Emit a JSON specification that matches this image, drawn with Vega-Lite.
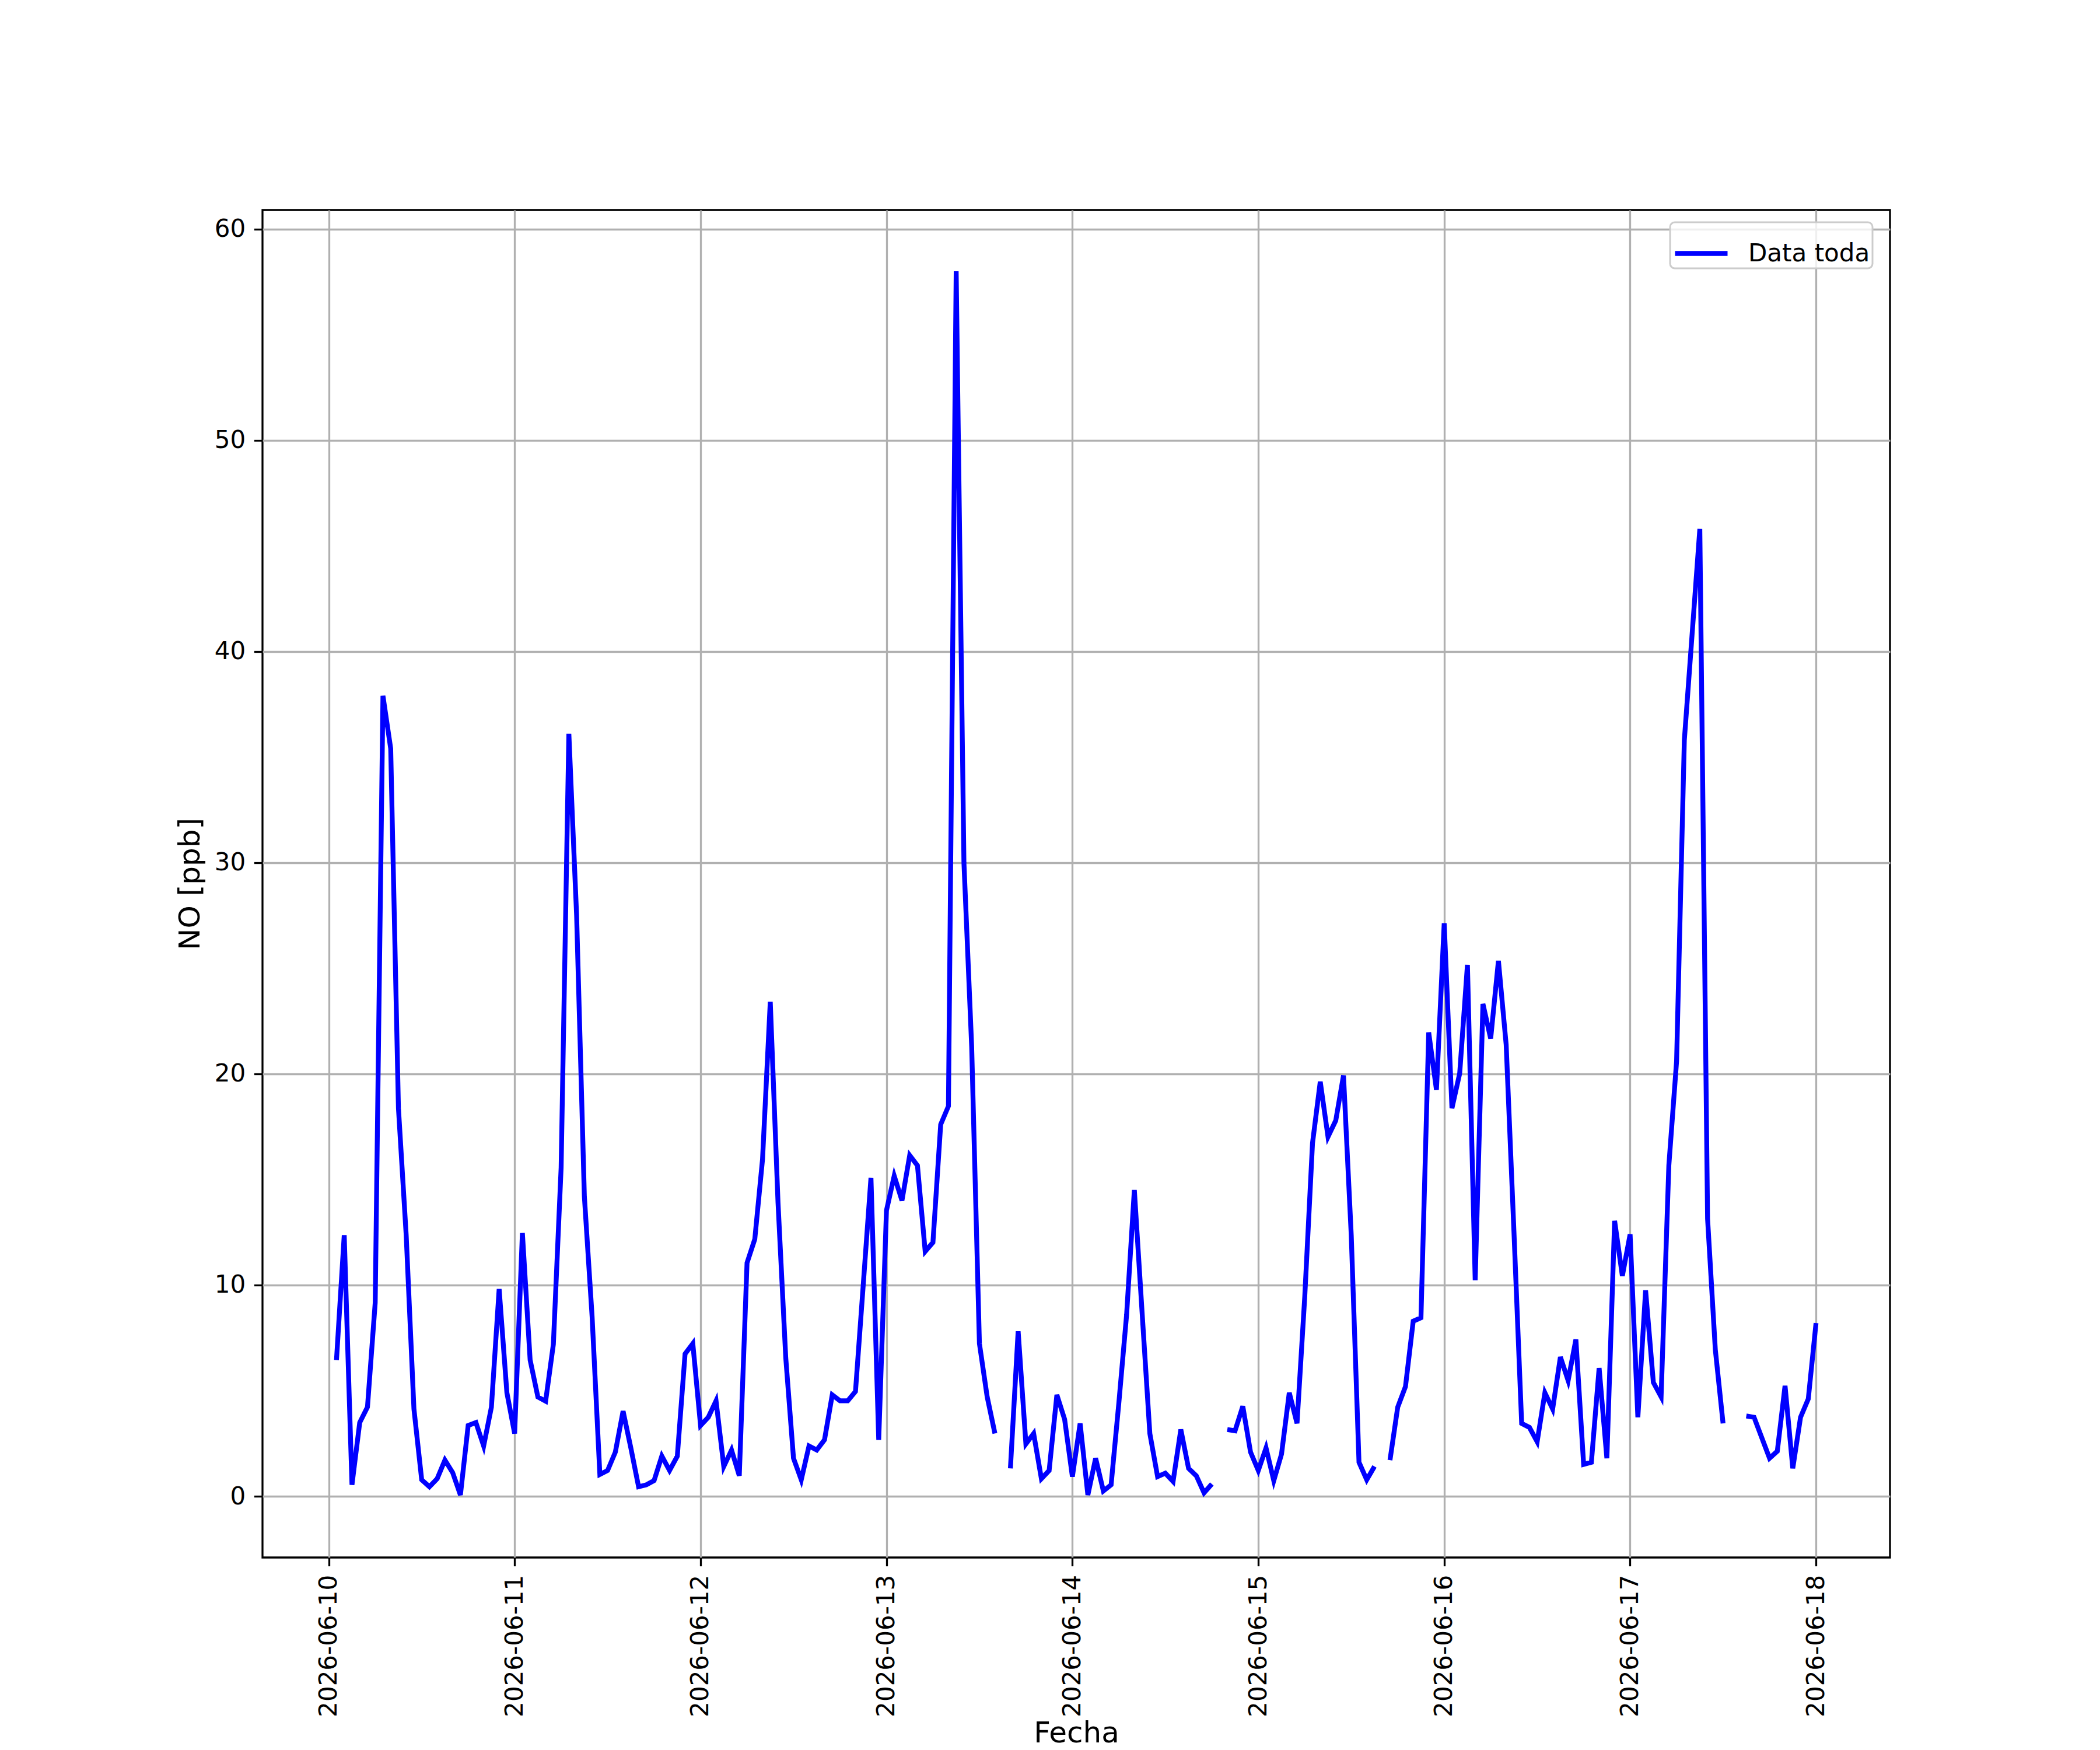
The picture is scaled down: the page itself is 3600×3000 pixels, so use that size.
{
  "$schema": "https://vega.github.io/schema/vega-lite/v6.json",
  "autosize": "none",
  "width": 2790,
  "height": 2310,
  "padding": {"left": 450, "top": 360, "right": 360, "bottom": 330},
  "background": "white",
  "data": {
    "values": [
      {"Fecha": "2026-06-10T01:00:00Z", "NO": 6.45},
      {"Fecha": "2026-06-10T02:00:00Z", "NO": 12.36},
      {"Fecha": "2026-06-10T03:00:00Z", "NO": 0.54},
      {"Fecha": "2026-06-10T04:00:00Z", "NO": 3.49},
      {"Fecha": "2026-06-10T05:00:00Z", "NO": 4.22},
      {"Fecha": "2026-06-10T06:00:00Z", "NO": 9.17},
      {"Fecha": "2026-06-10T07:00:00Z", "NO": 37.9},
      {"Fecha": "2026-06-10T08:00:00Z", "NO": 35.4},
      {"Fecha": "2026-06-10T09:00:00Z", "NO": 18.37},
      {"Fecha": "2026-06-10T10:00:00Z", "NO": 12.36},
      {"Fecha": "2026-06-10T11:00:00Z", "NO": 4.13},
      {"Fecha": "2026-06-10T12:00:00Z", "NO": 0.78},
      {"Fecha": "2026-06-10T13:00:00Z", "NO": 0.45},
      {"Fecha": "2026-06-10T14:00:00Z", "NO": 0.83},
      {"Fecha": "2026-06-10T15:00:00Z", "NO": 1.71},
      {"Fecha": "2026-06-10T16:00:00Z", "NO": 1.12},
      {"Fecha": "2026-06-10T17:00:00Z", "NO": 0.06},
      {"Fecha": "2026-06-10T18:00:00Z", "NO": 3.35},
      {"Fecha": "2026-06-10T19:00:00Z", "NO": 3.49},
      {"Fecha": "2026-06-10T20:00:00Z", "NO": 2.38},
      {"Fecha": "2026-06-10T21:00:00Z", "NO": 4.22},
      {"Fecha": "2026-06-10T22:00:00Z", "NO": 9.81},
      {"Fecha": "2026-06-10T23:00:00Z", "NO": 4.9},
      {"Fecha": "2026-06-11T00:00:00Z", "NO": 2.97},
      {"Fecha": "2026-06-11T01:00:00Z", "NO": 12.46},
      {"Fecha": "2026-06-11T02:00:00Z", "NO": 6.45},
      {"Fecha": "2026-06-11T03:00:00Z", "NO": 4.7},
      {"Fecha": "2026-06-11T04:00:00Z", "NO": 4.5},
      {"Fecha": "2026-06-11T05:00:00Z", "NO": 7.2},
      {"Fecha": "2026-06-11T06:00:00Z", "NO": 15.56},
      {"Fecha": "2026-06-11T07:00:00Z", "NO": 36.1},
      {"Fecha": "2026-06-11T08:00:00Z", "NO": 27.5},
      {"Fecha": "2026-06-11T09:00:00Z", "NO": 14.2},
      {"Fecha": "2026-06-11T10:00:00Z", "NO": 8.5},
      {"Fecha": "2026-06-11T11:00:00Z", "NO": 1.03},
      {"Fecha": "2026-06-11T12:00:00Z", "NO": 1.22},
      {"Fecha": "2026-06-11T13:00:00Z", "NO": 2.09},
      {"Fecha": "2026-06-11T14:00:00Z", "NO": 4.03},
      {"Fecha": "2026-06-11T15:00:00Z", "NO": 2.29},
      {"Fecha": "2026-06-11T16:00:00Z", "NO": 0.45},
      {"Fecha": "2026-06-11T17:00:00Z", "NO": 0.54},
      {"Fecha": "2026-06-11T18:00:00Z", "NO": 0.74},
      {"Fecha": "2026-06-11T19:00:00Z", "NO": 1.9},
      {"Fecha": "2026-06-11T20:00:00Z", "NO": 1.22},
      {"Fecha": "2026-06-11T21:00:00Z", "NO": 1.9},
      {"Fecha": "2026-06-11T22:00:00Z", "NO": 6.74},
      {"Fecha": "2026-06-11T23:00:00Z", "NO": 7.23},
      {"Fecha": "2026-06-12T00:00:00Z", "NO": 3.35},
      {"Fecha": "2026-06-12T01:00:00Z", "NO": 3.74},
      {"Fecha": "2026-06-12T02:00:00Z", "NO": 4.52},
      {"Fecha": "2026-06-12T03:00:00Z", "NO": 1.41},
      {"Fecha": "2026-06-12T04:00:00Z", "NO": 2.19},
      {"Fecha": "2026-06-12T05:00:00Z", "NO": 0.97},
      {"Fecha": "2026-06-12T06:00:00Z", "NO": 11.05},
      {"Fecha": "2026-06-12T07:00:00Z", "NO": 12.17},
      {"Fecha": "2026-06-12T08:00:00Z", "NO": 15.95},
      {"Fecha": "2026-06-12T09:00:00Z", "NO": 23.41},
      {"Fecha": "2026-06-12T10:00:00Z", "NO": 13.9},
      {"Fecha": "2026-06-12T11:00:00Z", "NO": 6.55},
      {"Fecha": "2026-06-12T12:00:00Z", "NO": 1.8},
      {"Fecha": "2026-06-12T13:00:00Z", "NO": 0.78},
      {"Fecha": "2026-06-12T14:00:00Z", "NO": 2.38},
      {"Fecha": "2026-06-12T15:00:00Z", "NO": 2.19},
      {"Fecha": "2026-06-12T16:00:00Z", "NO": 2.67},
      {"Fecha": "2026-06-12T17:00:00Z", "NO": 4.8},
      {"Fecha": "2026-06-12T18:00:00Z", "NO": 4.52},
      {"Fecha": "2026-06-12T19:00:00Z", "NO": 4.52},
      {"Fecha": "2026-06-12T20:00:00Z", "NO": 4.96},
      {"Fecha": "2026-06-12T21:00:00Z", "NO": 10.0},
      {"Fecha": "2026-06-12T22:00:00Z", "NO": 15.08},
      {"Fecha": "2026-06-12T23:00:00Z", "NO": 2.67},
      {"Fecha": "2026-06-13T00:00:00Z", "NO": 13.53},
      {"Fecha": "2026-06-13T01:00:00Z", "NO": 15.17},
      {"Fecha": "2026-06-13T02:00:00Z", "NO": 14.0},
      {"Fecha": "2026-06-13T03:00:00Z", "NO": 16.14},
      {"Fecha": "2026-06-13T04:00:00Z", "NO": 15.66},
      {"Fecha": "2026-06-13T05:00:00Z", "NO": 11.59},
      {"Fecha": "2026-06-13T06:00:00Z", "NO": 12.02},
      {"Fecha": "2026-06-13T07:00:00Z", "NO": 17.6},
      {"Fecha": "2026-06-13T08:00:00Z", "NO": 18.47},
      {"Fecha": "2026-06-13T09:00:00Z", "NO": 58.0},
      {"Fecha": "2026-06-13T10:00:00Z", "NO": 30.0},
      {"Fecha": "2026-06-13T11:00:00Z", "NO": 21.28},
      {"Fecha": "2026-06-13T12:00:00Z", "NO": 7.23},
      {"Fecha": "2026-06-13T13:00:00Z", "NO": 4.71},
      {"Fecha": "2026-06-13T14:00:00Z", "NO": 2.97},
      {"Fecha": "2026-06-13T15:00:00Z", "NO": null},
      {"Fecha": "2026-06-13T16:00:00Z", "NO": 1.32},
      {"Fecha": "2026-06-13T17:00:00Z", "NO": 7.81},
      {"Fecha": "2026-06-13T18:00:00Z", "NO": 2.48},
      {"Fecha": "2026-06-13T19:00:00Z", "NO": 2.97},
      {"Fecha": "2026-06-13T20:00:00Z", "NO": 0.83},
      {"Fecha": "2026-06-13T21:00:00Z", "NO": 1.22},
      {"Fecha": "2026-06-13T22:00:00Z", "NO": 4.8},
      {"Fecha": "2026-06-13T23:00:00Z", "NO": 3.64},
      {"Fecha": "2026-06-14T00:00:00Z", "NO": 0.93},
      {"Fecha": "2026-06-14T01:00:00Z", "NO": 3.45},
      {"Fecha": "2026-06-14T02:00:00Z", "NO": 0.06},
      {"Fecha": "2026-06-14T03:00:00Z", "NO": 1.8},
      {"Fecha": "2026-06-14T04:00:00Z", "NO": 0.25},
      {"Fecha": "2026-06-14T05:00:00Z", "NO": 0.54},
      {"Fecha": "2026-06-14T06:00:00Z", "NO": 4.42},
      {"Fecha": "2026-06-14T07:00:00Z", "NO": 8.59},
      {"Fecha": "2026-06-14T08:00:00Z", "NO": 14.5},
      {"Fecha": "2026-06-14T09:00:00Z", "NO": 8.7},
      {"Fecha": "2026-06-14T10:00:00Z", "NO": 2.97},
      {"Fecha": "2026-06-14T11:00:00Z", "NO": 0.93},
      {"Fecha": "2026-06-14T12:00:00Z", "NO": 1.09},
      {"Fecha": "2026-06-14T13:00:00Z", "NO": 0.7},
      {"Fecha": "2026-06-14T14:00:00Z", "NO": 3.16},
      {"Fecha": "2026-06-14T15:00:00Z", "NO": 1.32},
      {"Fecha": "2026-06-14T16:00:00Z", "NO": 0.97},
      {"Fecha": "2026-06-14T17:00:00Z", "NO": 0.16},
      {"Fecha": "2026-06-14T18:00:00Z", "NO": 0.58},
      {"Fecha": "2026-06-14T19:00:00Z", "NO": null},
      {"Fecha": "2026-06-14T20:00:00Z", "NO": 3.16},
      {"Fecha": "2026-06-14T21:00:00Z", "NO": 3.1},
      {"Fecha": "2026-06-14T22:00:00Z", "NO": 4.26},
      {"Fecha": "2026-06-14T23:00:00Z", "NO": 2.09},
      {"Fecha": "2026-06-15T00:00:00Z", "NO": 1.22},
      {"Fecha": "2026-06-15T01:00:00Z", "NO": 2.29},
      {"Fecha": "2026-06-15T02:00:00Z", "NO": 0.74},
      {"Fecha": "2026-06-15T03:00:00Z", "NO": 2.0},
      {"Fecha": "2026-06-15T04:00:00Z", "NO": 4.9},
      {"Fecha": "2026-06-15T05:00:00Z", "NO": 3.45},
      {"Fecha": "2026-06-15T06:00:00Z", "NO": 9.46},
      {"Fecha": "2026-06-15T07:00:00Z", "NO": 16.72},
      {"Fecha": "2026-06-15T08:00:00Z", "NO": 19.63},
      {"Fecha": "2026-06-15T09:00:00Z", "NO": 17.02},
      {"Fecha": "2026-06-15T10:00:00Z", "NO": 17.79},
      {"Fecha": "2026-06-15T11:00:00Z", "NO": 19.92},
      {"Fecha": "2026-06-15T12:00:00Z", "NO": 12.36},
      {"Fecha": "2026-06-15T13:00:00Z", "NO": 1.61},
      {"Fecha": "2026-06-15T14:00:00Z", "NO": 0.78},
      {"Fecha": "2026-06-15T15:00:00Z", "NO": 1.41},
      {"Fecha": "2026-06-15T16:00:00Z", "NO": null},
      {"Fecha": "2026-06-15T17:00:00Z", "NO": 1.71},
      {"Fecha": "2026-06-15T18:00:00Z", "NO": 4.22},
      {"Fecha": "2026-06-15T19:00:00Z", "NO": 5.19},
      {"Fecha": "2026-06-15T20:00:00Z", "NO": 8.29},
      {"Fecha": "2026-06-15T21:00:00Z", "NO": 8.45},
      {"Fecha": "2026-06-15T22:00:00Z", "NO": 21.96},
      {"Fecha": "2026-06-15T23:00:00Z", "NO": 19.24},
      {"Fecha": "2026-06-16T00:00:00Z", "NO": 27.13},
      {"Fecha": "2026-06-16T01:00:00Z", "NO": 18.37},
      {"Fecha": "2026-06-16T02:00:00Z", "NO": 20.02},
      {"Fecha": "2026-06-16T03:00:00Z", "NO": 25.16},
      {"Fecha": "2026-06-16T04:00:00Z", "NO": 10.23},
      {"Fecha": "2026-06-16T05:00:00Z", "NO": 23.31},
      {"Fecha": "2026-06-16T06:00:00Z", "NO": 21.67},
      {"Fecha": "2026-06-16T07:00:00Z", "NO": 25.35},
      {"Fecha": "2026-06-16T08:00:00Z", "NO": 21.38},
      {"Fecha": "2026-06-16T09:00:00Z", "NO": 12.56},
      {"Fecha": "2026-06-16T10:00:00Z", "NO": 3.45},
      {"Fecha": "2026-06-16T11:00:00Z", "NO": 3.26},
      {"Fecha": "2026-06-16T12:00:00Z", "NO": 2.58},
      {"Fecha": "2026-06-16T13:00:00Z", "NO": 4.9},
      {"Fecha": "2026-06-16T14:00:00Z", "NO": 4.13},
      {"Fecha": "2026-06-16T15:00:00Z", "NO": 6.59},
      {"Fecha": "2026-06-16T16:00:00Z", "NO": 5.48},
      {"Fecha": "2026-06-16T17:00:00Z", "NO": 7.42},
      {"Fecha": "2026-06-16T18:00:00Z", "NO": 1.51},
      {"Fecha": "2026-06-16T19:00:00Z", "NO": 1.61},
      {"Fecha": "2026-06-16T20:00:00Z", "NO": 6.07},
      {"Fecha": "2026-06-16T21:00:00Z", "NO": 1.8},
      {"Fecha": "2026-06-16T22:00:00Z", "NO": 13.04},
      {"Fecha": "2026-06-16T23:00:00Z", "NO": 10.43},
      {"Fecha": "2026-06-17T00:00:00Z", "NO": 12.4},
      {"Fecha": "2026-06-17T01:00:00Z", "NO": 3.74},
      {"Fecha": "2026-06-17T02:00:00Z", "NO": 9.75},
      {"Fecha": "2026-06-17T03:00:00Z", "NO": 5.39},
      {"Fecha": "2026-06-17T04:00:00Z", "NO": 4.71},
      {"Fecha": "2026-06-17T05:00:00Z", "NO": 15.66},
      {"Fecha": "2026-06-17T06:00:00Z", "NO": 20.6},
      {"Fecha": "2026-06-17T07:00:00Z", "NO": 35.8},
      {"Fecha": "2026-06-17T08:00:00Z", "NO": 40.8},
      {"Fecha": "2026-06-17T09:00:00Z", "NO": 45.8},
      {"Fecha": "2026-06-17T10:00:00Z", "NO": 13.14},
      {"Fecha": "2026-06-17T11:00:00Z", "NO": 6.94},
      {"Fecha": "2026-06-17T12:00:00Z", "NO": 3.45},
      {"Fecha": "2026-06-17T13:00:00Z", "NO": null},
      {"Fecha": "2026-06-17T14:00:00Z", "NO": null},
      {"Fecha": "2026-06-17T15:00:00Z", "NO": 3.8},
      {"Fecha": "2026-06-17T16:00:00Z", "NO": 3.74},
      {"Fecha": "2026-06-17T17:00:00Z", "NO": 2.77},
      {"Fecha": "2026-06-17T18:00:00Z", "NO": 1.8},
      {"Fecha": "2026-06-17T19:00:00Z", "NO": 2.13},
      {"Fecha": "2026-06-17T20:00:00Z", "NO": 5.23},
      {"Fecha": "2026-06-17T21:00:00Z", "NO": 1.32},
      {"Fecha": "2026-06-17T22:00:00Z", "NO": 3.74},
      {"Fecha": "2026-06-17T23:00:00Z", "NO": 4.61},
      {"Fecha": "2026-06-18T00:00:00Z", "NO": 8.2}
    ]
  },
  "mark": {
    "type": "line",
    "strokeWidth": 8.3,
    "invalid": "break-paths-show-domains"
  },
  "encoding": {
    "x": {
      "field": "Fecha",
      "type": "temporal",
      "title": "Fecha",
      "scale": {
        "type": "utc",
        "nice": false,
        "domain": [
          {"year": 2026, "month": 6, "date": 9, "hours": 15, "minutes": 27, "utc": true},
          {"year": 2026, "month": 6, "date": 18, "hours": 9, "minutes": 33, "utc": true}
        ]
      },
      "axis": {
        "format": "%Y-%m-%d",
        "tickCount": {"interval": "day", "step": 1},
        "labelAngle": -90,
        "labelAlign": "right",
        "labelBaseline": "middle",
        "labelLimit": 0,
        "titlePadding": 76
      }
    },
    "y": {
      "field": "NO",
      "type": "quantitative",
      "title": "NO [ppb]",
      "scale": {"domain": [-2.9, 60.9], "nice": false, "zero": false},
      "axis": {"values": [0, 10, 20, 30, 40, 50, 60], "titlePadding": 16}
    },
    "color": {
      "datum": "Data toda",
      "type": "nominal",
      "scale": {"range": ["#0000ff"]},
      "legend": {
        "title": null,
        "orient": "none",
        "legendX": 2413,
        "legendY": 21,
        "padding": 4,
        "strokeColor": "#cccccc",
        "fillColor": "rgba(255,255,255,0.8)",
        "cornerRadius": 8,
        "symbolType": "stroke",
        "symbolStrokeWidth": 8.3,
        "symbolSize": 8100,
        "labelOffset": 31,
        "labelFontSize": 42,
        "labelFont": "DejaVu Sans",
        "labelColor": "black",
        "labelLimit": 0,
        "encode": {
          "legend": {"update": {"strokeWidth": {"value": 3}}}
        }
      }
    }
  },
  "config": {
    "font": "DejaVu Sans",
    "view": {"stroke": "black", "strokeWidth": 3.3},
    "axis": {
      "labelFont": "DejaVu Sans",
      "labelFontSize": 42,
      "labelColor": "black",
      "titleFont": "DejaVu Sans",
      "titleFontSize": 50,
      "titleFontWeight": "normal",
      "titleColor": "black",
      "tickColor": "black",
      "tickSize": 14.6,
      "tickWidth": 3.3,
      "labelPadding": 14.6,
      "labelLimit": 0,
      "grid": true,
      "gridColor": "#b0b0b0",
      "gridWidth": 3.3,
      "domain": false
    }
  }
}
